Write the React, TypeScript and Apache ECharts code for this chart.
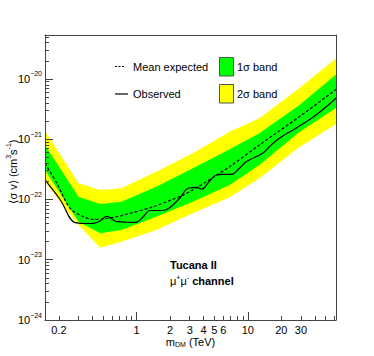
import React, { useEffect, useRef } from 'react';
import * as echarts from 'echarts';

// Mass points (TeV) of the expected-limit bands
const BAND_MASS = [0.15, 0.3, 0.47, 0.73, 1.5, 3.2, 6.86, 12.7, 29.1, 62];
const YELLOW_HIGH = [1.387e-21, 1.858e-22, 1.439e-22, 1.535e-22, 2.891e-22, 5.848e-22, 1.334e-21, 2.228e-21, 7.096e-21, 2.188e-20];
const GREEN_HIGH = [8.035e-22, 1.112e-22, 8.414e-23, 9.183e-23, 1.629e-22, 3.296e-22, 6.808e-22, 1.256e-21, 3.698e-21, 1.189e-20];
const GREEN_LOW = [3.09e-22, 4.285e-23, 2.748e-23, 3.119e-23, 5.188e-23, 9.183e-23, 1.742e-22, 3.741e-22, 1.318e-21, 3.304e-21];
const YELLOW_LOW = [1.95e-22, 3.776e-23, 1.585e-23, 1.995e-23, 3.119e-23, 5.902e-23, 1.089e-22, 2.249e-22, 7.43e-22, 1.791e-21];

// Mean expected limit
const EXP_MASS = [0.15, 0.192, 0.252, 0.332, 0.408, 0.5, 0.662, 0.871, 1.41, 2.81, 5.58, 6.86, 12.7, 29.1, 62];
const EXP_SIGMA = [3.99e-22, 1.858e-22, 7.145e-23, 5.188e-23, 4.688e-23, 4.742e-23, 5.188e-23, 5.902e-23, 7.586e-23, 1.268e-22, 2.723e-22, 3.499e-22, 8.035e-22, 2.366e-21, 6.699e-21];

// Observed limit
const OBS_MASS = [0.15, 0.206, 0.28, 0.337, 0.408, 0.469, 0.539, 0.6, 0.666, 0.836, 0.986, 1.14, 1.316, 1.73, 1.99, 2.445, 2.9, 3.45, 3.85, 4.45, 5.2, 5.93, 7.1, 8.4, 9.66, 13.6, 15.6, 19.2, 27.1, 41.0, 62];
const OBS_SIGMA = [2.109e-22, 9.817e-23, 4.121e-23, 3.999e-23, 4.027e-23, 4.395e-23, 5.26e-23, 4.742e-23, 4.285e-23, 4.188e-23, 4.169e-23, 5.129e-23, 6.561e-23, 6.561e-23, 7.362e-23, 1.059e-22, 1.535e-22, 1.592e-22, 1.493e-22, 1.95e-22, 2.553e-22, 2.618e-22, 2.618e-22, 3.296e-22, 4.236e-22, 5.848e-22, 7.516e-22, 1.038e-21, 1.521e-21, 2.523e-21, 4.786e-21];

// Axis ticks
const X_LABELS = [0.2, 1, 2, 3, 4, 5, 6, 10, 20, 30];
const X_MAJOR = [1, 10];
const X_MINOR = [0.2, 0.3, 0.4, 0.5, 0.6, 0.7, 0.8, 0.9, 2, 3, 4, 5, 6, 7, 8, 9, 20, 30, 40, 50, 60];
const Y_DECADES = [-24, -23, -22, -21, -20];
const Y_MINOR_FACTORS = [2, 3, 4, 5, 6, 7, 8, 9];

const X_RANGE = [0.15, 62];
const Y_RANGE = [1e-24, 5.37e-20];

const FONT = "'Liberation Sans', Arial, Helvetica, sans-serif";
const lg = (v: number) => Math.log10(v);

export default function App() {
  const ref = useRef<HTMLDivElement>(null);
  useEffect(() => {
    if (!ref.current) return;
    const chart = echarts.init(ref.current, undefined, { renderer: 'svg' });
    const xMin = lg(X_RANGE[0]);
    const xMax = lg(X_RANGE[1]);
    const yMin = lg(Y_RANGE[0]);
    const yMax = lg(Y_RANGE[1]);
    const yMinor: number[] = [];
    Y_DECADES.forEach((e) => {
      Y_MINOR_FACTORS.forEach((k) => {
        const v = e + lg(k);
        if (v < yMax) yMinor.push(v);
      });
    });
    const lineColor = '#444';

    const band = (low: number[], high: number[], color: string, z: number) => {
      const data = BAND_MASS.map((m, i) => [lg(m), lg(low[i]), lg(high[i])]);
      return {
        type: 'custom',
        xAxisIndex: 0,
        yAxisIndex: 0,
        silent: true,
        z,
        data,
        encode: { x: 0, y: [1, 2] },
        renderItem: (params: any, api: any) => {
          if (params.dataIndex !== 0) return null;
          const upper = data.map((d) => api.coord([d[0], d[2]]));
          const lower = data.map((d) => api.coord([d[0], d[1]])).reverse();
          return {
            type: 'polygon',
            shape: { points: upper.concat(lower) },
            style: { fill: color, stroke: null },
          };
        },
      };
    };

    const baseAxis = {
      type: 'value',
      z: 10,
      splitLine: { show: false },
      nameMoveOverlap: false,
    };

    const option: any = {
      animation: false,
      backgroundColor: '#fff',
      textStyle: { fontFamily: FONT },
      grid: { left: 45, right: 38, top: 35, bottom: 36, containLabel: false, outerBoundsMode: 'none' },
      xAxis: [
        {
          ...baseAxis,
          position: 'bottom',
          min: xMin,
          max: xMax,
          name: 'm{sub|DM} (TeV)',
          nameLocation: 'middle',
          nameGap: 15,
          nameTextStyle: {
            fontSize: 11,
            color: '#000',
            fontFamily: FONT,
            rich: { sub: { fontSize: 7, padding: [6, 0, 0, 0], fontFamily: FONT } },
          },
          axisLine: { show: true, onZero: false, lineStyle: { color: lineColor, width: 1 } },
          axisTick: {
            show: true,
            inside: true,
            length: 8,
            customValues: X_MAJOR.map(lg),
            lineStyle: { color: lineColor },
          },
          axisLabel: {
            show: true,
            customValues: X_LABELS.map(lg),
            margin: 4,
            fontSize: 11,
            color: '#000',
            fontFamily: FONT,
            formatter: (v: number) => String(Number(Math.pow(10, v).toPrecision(2))),
          },
        },
        {
          ...baseAxis,
          position: 'bottom',
          min: xMin,
          max: xMax,
          axisLine: { show: false, onZero: false },
          axisLabel: { show: false },
          axisTick: {
            show: true,
            inside: true,
            length: 4,
            customValues: X_MINOR.map(lg),
            lineStyle: { color: lineColor },
          },
        },
        {
          ...baseAxis,
          position: 'top',
          min: xMin,
          max: xMax,
          axisLine: { show: true, onZero: false, lineStyle: { color: lineColor, width: 1 } },
          axisLabel: { show: false },
          axisTick: { show: false },
        },
      ],
      yAxis: [
        {
          ...baseAxis,
          position: 'left',
          min: yMin,
          max: yMax,
          name: '⟨σ v⟩ (cm{s|3}s{s|-1})',
          nameLocation: 'middle',
          nameGap: 25,
          nameRotate: 90,
          nameTextStyle: {
            fontSize: 11,
            color: '#000',
            fontFamily: FONT,
            padding: [0, 0, 0, 12],
            rich: { s: { fontSize: 7, padding: [0, 0, 8, 0], fontFamily: FONT } },
          },
          axisLine: { show: true, onZero: false, lineStyle: { color: lineColor, width: 1 } },
          axisTick: {
            show: true,
            inside: true,
            length: 8,
            customValues: Y_DECADES,
            lineStyle: { color: lineColor },
          },
          axisLabel: {
            show: true,
            customValues: Y_DECADES,
            margin: 3,
            color: '#000',
            fontFamily: FONT,
            formatter: (v: number) => `{b|10}{s|−${Math.abs(Math.round(v))}}`,
            rich: {
              b: { fontSize: 11, fontFamily: FONT, color: '#000' },
              s: { fontSize: 7, fontFamily: FONT, color: '#000', padding: [0, 0, 10, 0] },
            },
          },
        },
        {
          ...baseAxis,
          position: 'left',
          min: yMin,
          max: yMax,
          axisLine: { show: false, onZero: false },
          axisLabel: { show: false },
          axisTick: {
            show: true,
            inside: true,
            length: 4,
            customValues: yMinor,
            lineStyle: { color: lineColor },
          },
        },
        {
          ...baseAxis,
          position: 'right',
          min: yMin,
          max: yMax,
          axisLine: { show: true, onZero: false, lineStyle: { color: lineColor, width: 1 } },
          axisLabel: { show: false },
          axisTick: { show: false },
        },
      ],
      series: [
        band(YELLOW_LOW, YELLOW_HIGH, '#ffff00', 2),
        band(GREEN_LOW, GREEN_HIGH, '#00ff00', 3),
        {
          type: 'line',
          name: 'Mean expected',
          xAxisIndex: 0,
          yAxisIndex: 0,
          z: 4,
          showSymbol: false,
          smooth: 0.3,
          silent: true,
          data: EXP_MASS.map((m, i) => [lg(m), lg(EXP_SIGMA[i])]),
          lineStyle: { color: '#000', width: 1.2, type: [3, 2] },
        },
        {
          type: 'line',
          name: 'Observed',
          xAxisIndex: 0,
          yAxisIndex: 0,
          z: 5,
          showSymbol: false,
          smooth: 0.4,
          silent: true,
          data: OBS_MASS.map((m, i) => [lg(m), lg(OBS_SIGMA[i])]),
          lineStyle: { color: '#000', width: 1.2 },
        },
      ],
      graphic: [
        { type: 'line', shape: { x1: 115, y1: 66.5, x2: 125, y2: 66.5 }, style: { stroke: '#000', lineWidth: 1, lineDash: [2, 1.5] }, z: 20 },
        { type: 'text', x: 133, y: 66.5, style: { text: 'Mean expected', font: `11px ${FONT}`, fill: '#000', verticalAlign: 'middle' }, z: 20 },
        { type: 'line', shape: { x1: 115, y1: 94, x2: 128, y2: 94 }, style: { stroke: '#000', lineWidth: 1.2 }, z: 20 },
        { type: 'text', x: 133, y: 94, style: { text: 'Observed', font: `11px ${FONT}`, fill: '#000', verticalAlign: 'middle' }, z: 20 },
        { type: 'rect', shape: { x: 219.5, y: 57.5, width: 14, height: 18.5 }, style: { fill: '#00ff00', stroke: '#555', lineWidth: 1 }, z: 20 },
        { type: 'text', x: 237, y: 66.5, style: { text: '1σ band', font: `11px ${FONT}`, fill: '#000', verticalAlign: 'middle' }, z: 20 },
        { type: 'rect', shape: { x: 219.5, y: 84.5, width: 14, height: 18.5 }, style: { fill: '#ffff00', stroke: '#555', lineWidth: 1 }, z: 20 },
        { type: 'text', x: 237, y: 94, style: { text: '2σ band', font: `11px ${FONT}`, fill: '#000', verticalAlign: 'middle' }, z: 20 },
        { type: 'text', x: 170, y: 265, style: { text: 'Tucana II', font: `bold 11px ${FONT}`, fill: '#000', verticalAlign: 'middle' }, z: 20 },
        {
          type: 'text',
          x: 170,
          y: 281,
          style: {
            text: '{m|μ}{s|+}{m|μ}{s|-}{b| channel}',
            verticalAlign: 'middle',
            fill: '#000',
            rich: {
              m: { font: `11px ${FONT}`, fill: '#000' },
              s: { font: `7px ${FONT}`, fill: '#000', padding: [0, 0, 8, 0] },
              b: { font: `bold 11px ${FONT}`, fill: '#000' },
            },
          },
          z: 20,
        },
      ],
    };
    chart.setOption(option);
    return () => chart.dispose();
  }, []);
  return <div ref={ref} style={{ position: 'absolute', left: 0, top: 0, width: 374, height: 356 }} />;
}
